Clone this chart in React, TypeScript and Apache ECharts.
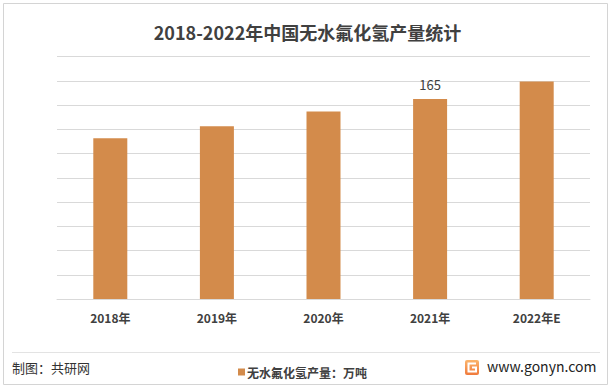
import React, { useEffect, useRef } from "react";
import * as echarts from "echarts";

const categories = ["2018年", "2019年", "2020年", "2021年", "2022年E"];
const production = [132.5, 142.4, 154.7, 165, 179.4];
const labelledIndex = [3];
const seriesName = "无水氟化氢产量：万吨";
const titleText = "2018-2022年中国无水氟化氢产量统计";
const sourceText = "制图：共研网";
const siteText = "www.gonyn.com";

const FONT = "'Noto Sans CJK SC', 'Noto Sans', sans-serif";
const BAR = "#D38B4B";
const TXT = "#404040";

export default function App() {
  const ref = useRef<HTMLDivElement>(null);
  useEffect(() => {
    if (!ref.current) return;
    const chart = echarts.init(ref.current, undefined, { renderer: "svg" });
    chart.setOption({
      animation: false,
      backgroundColor: "#ffffff",
      textStyle: { fontFamily: FONT },
      title: {
        text: titleText,
        left: "center",
        top: 18,
        textStyle: { fontFamily: FONT, fontSize: 18, fontWeight: "bold", color: TXT },
      },
      legend: {
        left: 233,
        top: 361,
        icon: "rect",
        itemWidth: 7,
        itemHeight: 7,
        itemGap: 2,
        textStyle: { fontFamily: FONT, fontSize: 12, fontWeight: "bold", color: TXT, padding: [0, 0, 0, -3] },
        data: [seriesName],
      },
      grid: { left: 57, right: 25, top: 56.5, bottom: 91 },
      xAxis: {
        type: "category",
        data: categories,
        axisLine: { lineStyle: { color: "#D9D9D9" } },
        axisTick: { show: false },
        axisLabel: { fontFamily: FONT, fontSize: 12, fontWeight: "bold", color: TXT, margin: 12 },
      },
      yAxis: {
        type: "value",
        min: 0,
        max: 200,
        interval: 20,
        axisLabel: { show: false },
        axisLine: { show: false },
        axisTick: { show: false },
        splitLine: { lineStyle: { color: "#D9D9D9", width: 1 } },
      },
      series: [
        {
          name: seriesName,
          type: "bar",
          barWidth: 34,
          itemStyle: { color: BAR },
          data: production.map((v, i) => ({
            value: v,
            label: {
              show: labelledIndex.includes(i),
              position: "top",
              distance: 8,
              fontFamily: FONT,
              fontSize: 13,
              color: TXT,
            },
          })),
        },
      ],
      graphic: [
        {
          type: "rect",
          shape: { x: 3.5, y: 3.5, width: 604, height: 381 },
          style: { fill: "none", stroke: "#D4D4D4", lineWidth: 1 },
          silent: true,
        },
        {
          type: "line",
          shape: { x1: 12, y1: 352.5, x2: 600, y2: 352.5 },
          style: { stroke: "#E3E3E3", lineWidth: 1 },
          silent: true,
        },
        {
          type: "text",
          left: 12,
          top: 361,
          style: { text: sourceText, font: `13px ${FONT}`, fill: "#333333" },
        },
        {
          type: "rect",
          shape: { x: 465, y: 360, width: 14, height: 15, r: 2 },
          style: {
            fill: new echarts.graphic.LinearGradient(0, 0, 0, 1, [
              { offset: 0, color: "#FBB56C" },
              { offset: 1, color: "#F07A3C" },
            ]),
          },
        },
        {
          type: "polyline",
          shape: { points: [[476, 363.5], [468.5, 363.5], [468.5, 371.5], [476, 371.5], [476, 367.5], [472, 367.5]] },
          style: { stroke: "#ffffff", lineWidth: 2, fill: "none" },
        },
        {
          type: "text",
          left: 487,
          top: 359,
          style: { text: siteText, font: `14px ${FONT}`, fill: "#222222" },
        },
      ],
    });
    return () => chart.dispose();
  }, []);
  return <div ref={ref} style={{ position: "fixed", left: 0, top: 0, width: 615, height: 390 }} />;
}
